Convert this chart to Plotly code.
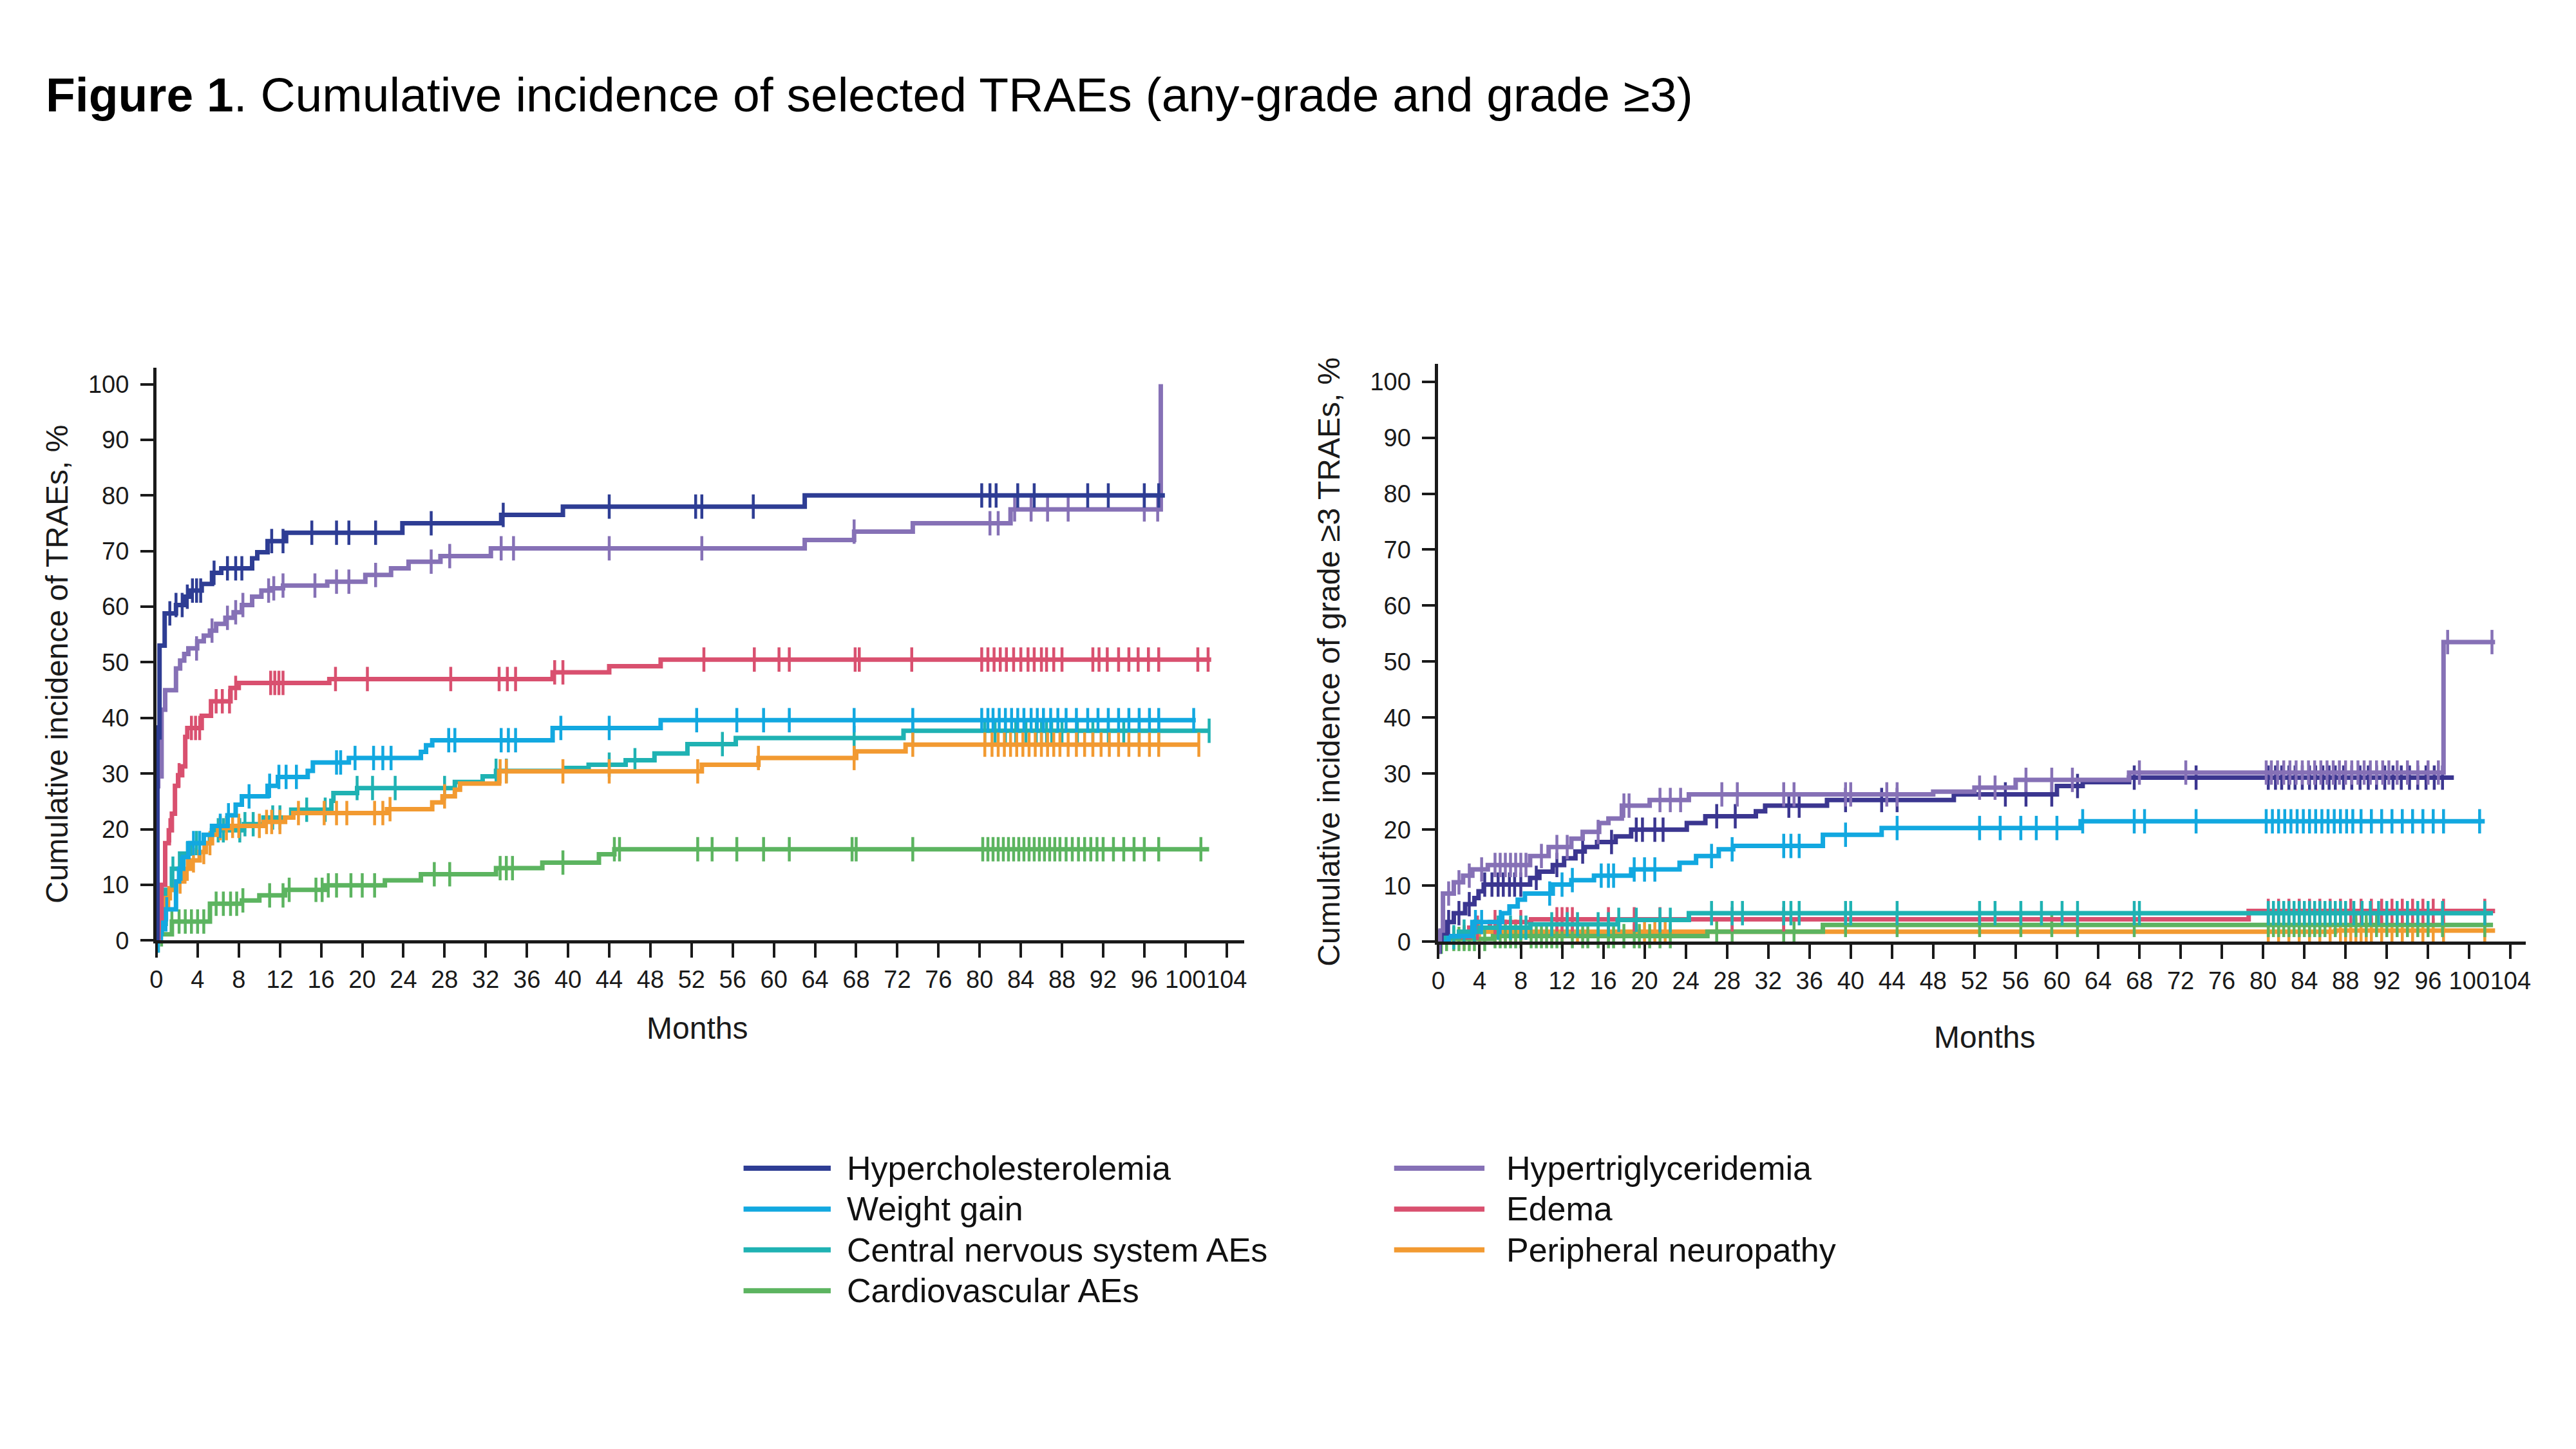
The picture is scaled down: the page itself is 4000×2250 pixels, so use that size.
import numpy as np
import plotly.graph_objects as go

# ---- data (months, cumulative incidence %) ----
# any-grade panel
hc_any_t = [0, 0.1, 0.3, 0.8, 1.9, 2.7, 3.3, 4.4, 5.4, 6.3, 9.3, 9.8, 10.8, 12.6, 23.9, 33.5, 39.5, 63.0, 98.0]
hc_any_y = [0, 36.5, 53, 58.8, 60.3, 61.8, 62.9, 64.1, 66.1, 66.9, 68.7, 69.8, 71.8, 73.3, 75.0, 76.5, 78.0, 80.0, 80.0]
hc_any_c = [0.12, 1.3, 1.9, 2.5, 3.0, 3.5, 3.9, 4.3, 5.6, 6.9, 7.7, 8.3, 11.2, 12.3, 15.1, 17.5, 18.7, 21.3, 26.7,
            33.7, 44.0, 52.4, 53.0, 58.0, 80.2, 81.0, 81.6, 83.7, 85.3, 90.5, 92.5, 96.0, 97.4]

htg_any_t = [0, 0.1, 0.5, 0.85, 1.9, 2.3, 2.7, 3.1, 3.96, 4.6, 5.2, 5.8, 6.7, 7.5, 8.3, 9.3, 10.2, 11.2, 12.3, 16.6,
             20.3, 22.8, 24.5, 27.6, 32.5, 63.0, 67.8, 73.5, 83.0, 97.6]
htg_any_y = [0, 29.5, 41.5, 45.0, 48.9, 50.3, 51.5, 52.5, 53.8, 54.8, 55.7, 56.9, 58.0, 59.0, 60.3, 61.8, 62.9, 63.3,
             63.8, 64.5, 65.7, 66.9, 68.1, 69.1, 70.5, 72.0, 73.5, 75.0, 77.5, 100]
htg_any_c = [0.12, 0.25, 3.9, 5.4, 6.9, 7.7, 8.4, 10.9, 11.4, 12.3, 15.4, 17.5, 18.7, 21.3, 26.7, 28.5, 33.5, 34.7,
             44.0, 53.0, 67.8, 81.0, 81.8, 83.4, 85.0, 86.6, 88.6, 96.0, 97.3]

edema_any_t = [0, 0.2, 0.5, 0.85, 1.2, 1.5, 1.8, 2.1, 2.5, 2.8, 3.0, 4.4, 5.3, 7.2, 8.0, 16.8, 38.5, 44.0, 49.0, 102.5]
edema_any_y = [0, 4, 10, 17.5, 19.8, 22.8, 27.8, 29.7, 31.3, 36.6, 38.2, 40.4, 43.0, 45.4, 46.3, 47.0, 48.2, 49.3,
               50.5, 50.5]
edema_any_c = [0.3, 1.3, 2.2, 3.4, 3.8, 4.2, 5.8, 6.4, 7.1, 7.7, 11.1, 11.5, 11.9, 12.3, 17.4, 20.5, 28.6, 33.3,
               34.1, 34.9, 38.7, 39.5, 53.2, 58.1, 60.5, 61.5, 67.9, 68.3, 73.4, 80.2, 80.8, 81.4, 82.0, 82.6, 83.3,
               84.0, 84.7, 85.3, 86.0, 86.5, 87.2, 88.0, 91.0, 91.6, 92.4, 93.5, 94.5, 95.4, 96.4, 97.4, 101.2, 102.2]

wg_any_t = [0, 0.3, 0.85, 1.9, 2.2, 2.6, 3.1, 4.6, 5.4, 6.9, 7.7, 8.3, 10.8, 11.8, 14.7, 15.2, 18.7, 25.7, 26.2,
            26.8, 38.5, 49.0, 101.0]
wg_any_y = [0, 2.0, 5.6, 10.6, 12.9, 15.0, 17.5, 19.0, 20.6, 22.5, 24.4, 25.9, 27.8, 29.4, 30.5, 32.0, 32.8, 33.9,
            35.1, 36.0, 38.2, 39.6, 39.6]
wg_any_c = [0.15, 0.5, 1.0, 2.4, 3.6, 4.2, 6.2, 7.0, 9.0, 11.0, 11.9, 12.6, 13.6, 17.5, 17.9, 19.3, 21.1, 22.0, 22.8,
            28.4, 29.0, 33.5, 34.2, 34.9, 39.3, 44.0, 52.5, 56.4, 59.0, 61.5, 67.8, 73.5, 80.2, 80.8, 81.3, 81.9,
            82.5, 83.1, 83.7, 84.3, 85.0, 85.6, 86.2, 86.9, 87.6, 88.4, 89.4, 90.5, 91.5, 92.5, 93.5, 94.5, 95.5,
            96.5, 97.4, 100.8]

cns_any_t = [0, 0.3, 0.9, 1.5, 2.3, 3.3, 5.2, 5.4, 8.5, 10.4, 13.1, 17.0, 17.2, 19.5, 29.0, 31.7, 33.0, 39.7, 42.0,
             45.6, 48.4, 51.6, 56.3, 72.6, 102.3]
cns_any_y = [0, 3, 9.1, 12.9, 15.6, 17.5, 19.0, 19.8, 20.9, 22.1, 23.5, 25.1, 26.5, 27.4, 28.5, 29.5, 30.5, 31.0,
             31.6, 32.4, 33.6, 35.3, 36.4, 37.7, 37.7]
cns_any_c = [0.2, 0.6, 1.6, 3.0, 3.9, 6.0, 6.5, 8.1, 8.6, 9.4, 11.3, 12.0, 14.6, 16.4, 19.5, 21.0, 23.2, 28.0, 33.0,
             34.0, 44.0, 46.5, 55.0, 67.8, 73.5, 80.5, 81.5, 82.5, 83.5, 84.5, 85.5, 86.0, 86.5, 87.0, 88.0, 89.5,
             91.0, 92.5, 94.0, 95.5, 97.4, 102.3]

pn_any_t = [0, 0.2, 0.85, 1.3, 1.9, 2.7, 3.3, 4.2, 4.8, 5.4, 6.0, 7.1, 10.4, 12.5, 13.3, 22.4, 26.8, 27.8, 29.0,
            29.5, 33.3, 53.0, 58.5, 68.0, 72.8, 101.3]
pn_any_y = [0, 3.5, 7.6, 9.1, 10.6, 12.9, 14.4, 15.9, 17.5, 19.0, 20.2, 20.6, 21.3, 22.1, 22.9, 23.6, 24.8, 25.9,
            27.1, 28.2, 30.4, 31.6, 32.8, 34.0, 35.2, 35.2]
pn_any_c = [0.1, 0.4, 1.2, 2.3, 3.0, 3.6, 4.6, 5.2, 6.2, 6.8, 7.4, 8.0, 10.0, 10.7, 11.2, 12.0, 13.8, 16.3, 17.5,
            18.5, 21.2, 22.0, 22.7, 28.0, 33.4, 34.0, 39.5, 44.0, 52.6, 58.5, 67.8, 73.5, 80.5, 81.2, 81.8, 82.4,
            83.0, 83.6, 84.2, 84.8, 85.4, 86.0, 86.6, 87.2, 87.8, 88.6, 89.4, 90.2, 91.0, 91.8, 92.6, 93.5, 94.5,
            95.5, 96.5, 97.4, 101.3]

cv_any_t = [0, 0.2, 1.5, 5.2, 8.3, 10.0, 12.5, 16.4, 22.2, 25.7, 33.0, 37.5, 43.0, 44.5, 102.3]
cv_any_y = [0, 1.1, 3.4, 6.6, 7.2, 8.1, 9.1, 9.9, 10.8, 11.9, 13.0, 14.0, 15.5, 16.4, 16.4]
cv_any_c = [0.5, 1.5, 2.2, 2.8, 3.4, 4.0, 4.6, 5.8, 6.5, 7.2, 7.8, 8.4, 11.0, 12.3, 12.9, 15.5, 16.1, 16.7, 17.5,
            18.9, 20.0, 21.2, 27.0, 28.5, 33.4, 34.0, 34.6, 39.5, 44.5, 45.0, 52.6, 54.0, 56.4, 59.0, 61.5, 67.6,
            68.0, 73.5, 80.3, 80.8, 81.3, 81.8, 82.3, 82.8, 83.3, 83.8, 84.3, 84.8, 85.3, 85.8, 86.3, 86.8, 87.3,
            87.8, 88.4, 89.0, 89.6, 90.2, 90.8, 91.4, 92.0, 93.0, 94.0, 95.0, 96.0, 97.4, 101.5]

# grade >=3 panel
hc_g3_t = [0, 0.3, 0.8, 1.5, 2.6, 3.5, 3.9, 4.4, 8.9, 9.8, 11.1, 12.2, 13.3, 14.2, 15.4, 17.2, 18.7, 24.1, 25.9,
           30.8, 31.7, 37.7, 50.0, 60.0, 62.5, 67.0, 98.5]
hc_g3_y = [0, 1.5, 3.5, 5.1, 6.7, 7.8, 9.0, 10.2, 11.4, 12.5, 13.7, 14.9, 16.1, 16.9, 17.8, 18.8, 20.0, 21.2, 22.4,
           23.3, 24.3, 25.3, 26.3, 27.8, 28.5, 29.3, 29.3]
hc_g3_c = [0.2, 1.0, 2.0, 3.0, 4.5, 5.2, 5.8, 6.3, 6.9, 7.4, 8.0, 9.5, 11.5, 14.0, 16.8, 19.2, 19.8, 21.0, 21.8,
           27.0, 28.8, 34.0, 35.0, 39.5, 43.0, 44.5, 55.0, 57.0, 59.5, 62.0, 67.5, 73.5, 80.5, 81.2, 81.8, 82.5,
           83.1, 83.8, 84.5, 85.1, 85.8, 86.4, 87.0, 87.8, 88.6, 89.4, 90.2, 91.0, 91.8, 92.6, 93.4, 94.2, 95.0,
           95.8, 96.6, 97.4]

htg_g3_t = [0, 0.15, 0.45, 1.5, 2.4, 3.3, 4.8, 8.9, 10.7, 12.9, 14.0, 15.6, 16.5, 17.8, 20.5, 24.3, 48.0, 52.0,
            56.0, 67.0, 97.5, 102.5]
htg_g3_y = [0, 2.0, 8.6, 10.6, 11.8, 12.9, 13.7, 15.3, 16.9, 18.4, 19.6, 21.2, 22.0, 24.3, 25.3, 26.3, 26.8, 27.5,
            28.9, 30.2, 53.5, 53.5]
htg_g3_c = [0.1, 1.0, 2.0, 3.0, 4.2, 5.5, 6.0, 6.5, 7.0, 7.5, 8.0, 8.5, 10.0, 11.5, 12.5, 15.5, 18.0, 18.5, 21.5,
            22.5, 23.5, 27.5, 29.0, 33.5, 34.5, 39.5, 40.0, 43.5, 44.5, 52.5, 54.0, 57.0, 59.5, 61.5, 68.0, 72.5,
            80.3, 80.8, 81.4, 82.0, 82.6, 83.2, 83.8, 84.4, 85.0, 85.6, 86.2, 86.8, 87.4, 88.0, 88.6, 89.2, 89.8,
            90.4, 91.0, 91.6, 92.2, 93.0, 94.0, 95.0, 96.0, 97.0, 97.9, 102.2]

wg_g3_t = [0, 1.0, 3.3, 6.2, 6.9, 7.7, 8.4, 11.1, 12.9, 15.1, 18.7, 23.4, 25.0, 27.2, 28.6, 37.3, 43.0, 62.3, 101.5]
wg_g3_y = [0, 1.0, 3.5, 5.1, 6.3, 7.5, 8.6, 10.2, 11.0, 11.8, 12.9, 14.1, 15.3, 16.5, 17.1, 19.1, 20.3, 21.5, 21.5]
wg_g3_c = [3.6, 4.2, 6.0, 10.8, 12.0, 13.0, 15.8, 16.5, 17.0, 19.0, 20.0, 21.0, 26.5, 28.5, 33.5, 34.2, 35.0, 39.5,
           44.5, 52.5, 54.5, 56.5, 58.0, 60.0, 62.5, 67.5, 68.5, 73.5, 80.3, 80.9, 81.5, 82.1, 82.7, 83.3, 83.9,
           84.5, 85.1, 85.7, 86.3, 86.9, 87.5, 88.1, 88.7, 89.5, 90.5, 91.5, 92.5, 93.5, 94.5, 95.5, 96.5, 97.5,
           101.0]

cns_g3_t = [0, 0.5, 2.0, 4.0, 8.9, 17.4, 24.3, 102.3]
cns_g3_y = [0, 0.8, 1.8, 2.5, 3.1, 3.9, 5.1, 5.1]
cns_g3_c = [1.5, 2.5, 3.5, 5.8, 7.0, 8.0, 8.5, 11.0, 12.5, 13.5, 15.5, 16.5, 17.5, 19.2, 21.5, 22.5, 26.5, 28.5,
            29.5, 33.5, 34.2, 35.0, 39.5, 40.0, 44.5, 52.5, 54.0, 56.5, 58.5, 60.5, 62.0, 67.5, 68.0, 80.5, 81.0,
            81.5, 82.0, 82.5, 83.0, 83.5, 84.0, 84.5, 85.0, 85.5, 86.0, 86.5, 87.0, 87.5, 88.0, 88.8, 89.6, 90.4,
            91.2, 92.0, 93.0, 94.0, 95.0, 96.0, 97.4, 101.5]

edema_g3_t = [0, 1.0, 3.0, 5.0, 9.0, 78.6, 102.5]
edema_g3_y = [0, 0.8, 2.5, 3.5, 4.0, 5.5, 5.5]
edema_g3_c = [3.8, 5.5, 8.0, 11.5, 12.0, 12.5, 13.0, 16.5, 19.0, 21.5, 28.5, 33.5, 80.5, 81.5, 82.5, 83.5, 84.5,
              85.5, 86.5, 87.5, 88.5, 89.5, 90.5, 91.5, 92.5, 93.5, 94.5, 95.5, 96.5, 97.5, 101.5]

pn_g3_t = [0, 1.0, 3.1, 87.0, 102.5]
pn_g3_y = [0, 0.8, 1.8, 2.0, 2.0]
pn_g3_c = [2.5, 4.0, 5.5, 6.5, 7.5, 8.0, 11.0, 12.0, 13.5, 16.5, 20.0, 21.0, 22.0, 80.5, 81.5, 82.5, 83.5, 84.5,
           85.5, 86.5, 87.5, 88.0, 88.5, 89.0, 89.5, 90.0, 90.5, 91.5, 92.5, 93.5, 94.5, 95.5, 96.5, 97.5, 101.5]

cv_g3_t = [0, 0.5, 5.3, 26.1, 37.3, 102.3]
cv_g3_y = [0, 0.5, 1.0, 1.8, 3.0, 3.0]
cv_g3_c = [0.3, 0.8, 1.5, 2.0, 2.5, 3.0, 3.5, 4.5, 5.5, 6.0, 6.5, 7.0, 7.5, 8.0, 9.0, 9.5, 10.0, 10.5, 11.0, 11.5,
           12.0, 13.0, 14.0, 14.5, 15.5, 16.5, 17.0, 18.0, 19.0, 19.5, 20.5, 21.5, 22.5, 27.0, 28.5, 33.5, 34.5,
           39.5, 44.5, 52.5, 56.5, 59.5, 62.0, 67.5, 80.5, 81.0, 81.5, 82.0, 82.5, 83.0, 83.5, 84.0, 84.5, 85.0,
           85.5, 86.0, 87.0, 88.0, 89.0, 90.0, 91.0, 92.0, 93.0, 94.0, 95.0, 96.0, 97.4, 101.5]

legend_labels = ['Hypercholesterolemia', 'Hypertriglyceridemia', 'Weight gain', 'Edema',
                 'Central nervous system AEs', 'Peripheral neuropathy', 'Cardiovascular AEs']
y_ticks = list(range(0, 101, 10))
x_ticks = list(range(0, 105, 4))

colors = {
    'hc': '#2e3d94', 'htg': '#8671b6', 'wg': '#12a8e0', 'edema': '#d9506f',
    'cns': '#1fb2b3', 'pn': '#f29a31', 'cv': '#5cb460',
}
hc_g3_color = '#3b3690'

FONT = 'Liberation Sans, Arial, sans-serif'
W, H = 4000, 2250
DX = -18  # page offset correction


def px_x(p):
    return (p + DX) / W


def px_y(p):
    return 1 - p / H


def step_at(t, y, c):
    t = np.asarray(t)
    y = np.asarray(y)
    idx = np.searchsorted(t, np.asarray(c), side='right') - 1
    return y[np.clip(idx, 0, len(y) - 1)]


def add_curve(fig, t, y, cens, color, xa, ya):
    fig.add_trace(go.Scatter(x=t, y=y, mode='lines', line=dict(color=color, width=7, shape='hv'),
                             xaxis=xa, yaxis=ya, showlegend=False, hoverinfo='skip', cliponaxis=False))
    fig.add_trace(go.Scatter(x=cens, y=step_at(t, y, cens), mode='markers',
                             marker=dict(symbol='line-ns', size=27, color=color,
                                         line=dict(width=4.5, color=color)),
                             xaxis=xa, yaxis=ya, showlegend=False, hoverinfo='skip', cliponaxis=False))


fig = go.Figure()

any_series = [
    (cv_any_t, cv_any_y, cv_any_c, colors['cv']),
    (cns_any_t, cns_any_y, cns_any_c, colors['cns']),
    (pn_any_t, pn_any_y, pn_any_c, colors['pn']),
    (wg_any_t, wg_any_y, wg_any_c, colors['wg']),
    (edema_any_t, edema_any_y, edema_any_c, colors['edema']),
    (htg_any_t, htg_any_y, htg_any_c, colors['htg']),
    (hc_any_t, hc_any_y, hc_any_c, colors['hc']),
]
for t, y, c, col in any_series:
    add_curve(fig, t, y, c, col, 'x', 'y')

g3_series = [
    (pn_g3_t, pn_g3_y, pn_g3_c, colors['pn']),
    (cv_g3_t, cv_g3_y, cv_g3_c, colors['cv']),
    (edema_g3_t, edema_g3_y, edema_g3_c, colors['edema']),
    (cns_g3_t, cns_g3_y, cns_g3_c, colors['cns']),
    (wg_g3_t, wg_g3_y, wg_g3_c, colors['wg']),
    (hc_g3_t, hc_g3_y, hc_g3_c, hc_g3_color),
    (htg_g3_t, htg_g3_y, htg_g3_c, colors['htg']),
]
for t, y, c, col in g3_series:
    add_curve(fig, t, y, c, col, 'x2', 'y2')

axis_common = dict(showline=True, linecolor='#1a1a1a', linewidth=5, showgrid=False, zeroline=False,
                   ticks='outside', tickcolor='#1a1a1a', tickwidth=4,
                   tickfont=dict(family=FONT, size=38, color='#1a1a1a'))

fig.update_layout(
    width=W, height=H, margin=dict(l=0, r=0, t=0, b=0),
    paper_bgcolor='white', plot_bgcolor='white', showlegend=False,
    xaxis=dict(domain=[px_x(243), px_x(1940)], range=[0, 105.7], anchor='y', tickvals=x_ticks,
               ticklen=22, tickangle=0, ticklabelstandoff=1, **axis_common),
    yaxis=dict(domain=[px_y(1466), px_y(568)], range=[0, 103], anchor='x', tickvals=y_ticks,
               ticklen=20, ticklabelstandoff=10, **axis_common),
    xaxis2=dict(domain=[px_x(2243), px_x(3940)], range=[0, 105.5], anchor='y2', tickvals=x_ticks,
                ticklen=22, tickangle=0, ticklabelstandoff=1, **axis_common),
    yaxis2=dict(domain=[px_y(1468), px_y(562)], range=[0, 103.2], anchor='x2', tickvals=y_ticks,
                ticklen=20, ticklabelstandoff=10, **axis_common),
)

title_font = dict(family=FONT, size=48, color='#1a1a1a')
centred = dict(xref='paper', yref='paper', xanchor='center', yanchor='middle', showarrow=False)
fig.add_annotation(text='<b>Figure 1</b>. Cumulative incidence of selected TRAEs (any-grade and grade ≥3)',
                   x=px_x(68), y=px_y(140), xref='paper', yref='paper', xanchor='left', yanchor='middle',
                   showarrow=False, font=dict(family=FONT, size=75, color='black'))
fig.add_annotation(text='Cumulative incidence of TRAEs, %', textangle=-90, x=px_x(88), y=px_y(1033),
                   font=title_font, **centred)
fig.add_annotation(text='Cumulative incidence of grade ≥3 TRAEs, %', textangle=-90, x=px_x(2072), y=px_y(1029),
                   font=title_font, **centred)
fig.add_annotation(text='Months', x=px_x(1087), y=px_y(1603), font=title_font, **centred)
fig.add_annotation(text='Months', x=px_x(3095), y=px_y(1618), font=title_font, **centred)

# legend, two columns read row by row
legend_colors = [colors['hc'], colors['htg'], colors['wg'], colors['edema'], colors['cns'], colors['pn'],
                 colors['cv']]
row_y = [1823, 1887, 1951, 2015]
col_x = [(1159, 1295, 1318), (2174, 2315, 2347)]
for i, (lab, col) in enumerate(zip(legend_labels, legend_colors)):
    x0, x1, xt = col_x[i % 2]
    yy = px_y(row_y[i // 2])
    fig.add_shape(type='line', xref='paper', yref='paper', x0=px_x(x0), x1=px_x(x1), y0=yy, y1=yy,
                  line=dict(color=col, width=8))
    fig.add_annotation(text=lab, x=px_x(xt), y=yy, xref='paper', yref='paper', xanchor='left', yanchor='middle',
                       showarrow=False, font=dict(family=FONT, size=52, color='#111111'))

fig.write_html('out.html')
